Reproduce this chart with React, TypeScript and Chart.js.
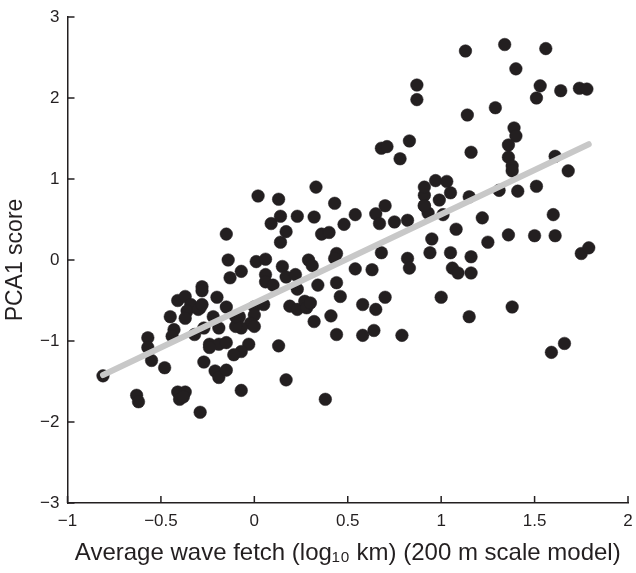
import React, { useEffect, useRef } from "react";
import { Chart, registerables } from "chart.js";

Chart.register(...registerables);

// Average wave fetch (log10 km), 200 m scale model
const fetchValues: number[] = [
  1.13, 1.34, 1.56, 1.40, 1.53, 1.51, 1.64, 1.74, 1.78, 1.14,
  1.29, 1.39, 1.40, 1.36, 1.16, 1.36, 1.38, 1.38, 1.61, 1.68,
  0.97, 1.03, 1.05, 0.91, 0.99, 1.15, 1.31, 1.41, 1.51, 0.87,
  0.87, 0.68, 0.71, 0.83, 0.78, 0.33, 0.02, 0.13, 0.91, 0.43,
  0.70, 0.65, 0.67, 0.75, 0.82, 0.91, 0.93, 0.54, 0.48, 0.09,
  0.14, 0.23, 0.32, 0.17, 0.14, 0.36, 0.40, 0.95, 0.94, 0.68,
  0.82, 0.83, 0.44, 0.43, 0.29, 0.31, 0.01, 0.06, -0.07, 0.15,
  0.06, 0.06, 0.10, 0.17, 0.22, 0.23, 0.34, 0.44, 0.54, 0.63,
  0.46, 0.70, 0.58, 0.65, 0.19, 0.23, 0.27, 0.28, 0.32, 0.41,
  0.44, 0.58, 0.64, 0.79, 0.00, 0.00, -0.02, 0.00, -0.08, -0.07,
  -0.03, -0.07, 0.13, 0.17, -0.07, 0.38, 1.00, 1.01, 1.22, 1.60,
  1.08, 1.36, 1.50, 1.61, 1.25, 1.05, 1.16, 1.06, 1.09, 1.16,
  1.75, 1.79, 1.15, 1.38, 1.66, 1.59, -0.15, -0.14, -0.13, -0.28,
  -0.28, -0.20, -0.41, -0.37, -0.34, -0.29, -0.15, -0.36, -0.45, -0.37,
  -0.22, -0.10, -0.43, -0.32, -0.27, -0.19, -0.44, -0.57, -0.57, -0.55,
  -0.48, -0.24, -0.19, -0.27, -0.21, -0.19, -0.15, -0.11, -0.63, -0.62,
  -0.41, -0.37, -0.40, -0.38, -0.29, -0.81, 0.05, -0.10, -0.24, -0.15,
  -0.30, -0.28, 0.30, 0.91,
];

// PCA1 score
const pcaScores: number[] = [
  2.58, 2.66, 2.61, 2.36, 2.15, 2.00, 2.09, 2.12, 2.11, 1.79,
  1.88, 1.63, 1.53, 1.42, 1.33, 1.27, 1.16, 1.10, 1.28, 1.10,
  0.98, 0.97, 0.83, 0.80, 0.74, 0.78, 0.86, 0.85, 0.91, 2.16,
  1.98, 1.38, 1.40, 1.47, 1.25, 0.90, 0.79, 0.75, 0.90, 0.70,
  0.67, 0.57, 0.45, 0.47, 0.49, 0.67, 0.58, 0.56, 0.44, 0.45,
  0.54, 0.54, 0.53, 0.35, 0.22, 0.32, 0.34, 0.26, 0.09, 0.09,
  0.02, -0.10, 0.08, 0.02, 0.00, -0.07, -0.02, 0.01, -0.14, -0.08,
  -0.18, -0.27, -0.31, -0.21, -0.18, -0.36, -0.31, -0.28, -0.11, -0.12,
  -0.45, -0.46, -0.55, -0.61, -0.57, -0.61, -0.51, -0.59, -0.76, -0.69,
  -0.92, -0.93, -0.87, -0.93, -0.58, -0.68, -0.78, -0.82, -0.70, -0.84,
  -1.04, -1.13, -1.06, -1.48, -1.61, -1.72, -0.46, 0.56, 0.52, 0.56,
  0.38, 0.31, 0.30, 0.30, 0.22, 0.09, 0.04, -0.10, -0.16, -0.16,
  0.08, 0.15, -0.70, -0.58, -1.03, -1.14, 0.32, 0.00, -0.22, -0.33,
  -0.38, -0.46, -0.50, -0.45, -0.55, -0.59, -0.58, -0.63, -0.70, -0.72,
  -0.70, -0.82, -0.86, -0.92, -0.84, -0.84, -0.94, -0.96, -1.08, -1.24,
  -1.33, -1.04, -1.04, -1.26, -1.37, -1.45, -1.36, -1.17, -1.67, -1.75,
  -1.63, -1.63, -1.72, -1.69, -1.88, -1.43, -0.55, -0.70, -1.08, -1.02,
  -0.61, -0.55, -0.53, 0.67,
];

// Fitted regression line end points
const fitX: number[] = [-0.81, 1.79];
const fitY: number[] = [-1.42, 1.43];

const xTickValues: number[] = [-1, -0.5, 0, 0.5, 1, 1.5, 2];
const yTickValues: number[] = [-3, -2, -1, 0, 1, 2, 3];

const xTitle = "Average wave fetch (log₁₀ km) (200 m scale model)";
const yTitle = "PCA1 score";

const INK = "#231f20";
const FONT = "'Liberation Sans', Arial, Helvetica, sans-serif";

const fmt = (v: number) => (v < 0 ? "\u2212" + String(Math.abs(v)) : String(v));

const inwardTicks = {
  id: "inwardTicks",
  afterDatasetsDraw(chart: any) {
    const { ctx, chartArea, scales } = chart;
    const x = scales.x;
    const y = scales.y;
    ctx.save();
    ctx.strokeStyle = INK;
    ctx.lineWidth = 1.5;
    ctx.beginPath();
    xTickValues.forEach((v) => {
      const px = x.getPixelForValue(v);
      ctx.moveTo(px, chartArea.bottom);
      ctx.lineTo(px, chartArea.bottom - 7);
    });
    yTickValues.forEach((v) => {
      const py = y.getPixelForValue(v);
      ctx.moveTo(chartArea.left, py);
      ctx.lineTo(chartArea.left + 7, py);
    });
    ctx.stroke();
    ctx.restore();
  },
};

export default function App() {
  const canvasRef = useRef<HTMLCanvasElement | null>(null);

  useEffect(() => {
    document.body.style.margin = "0";
    const canvas = canvasRef.current;
    if (!canvas) return;
    const points = fetchValues.map((v, i) => ({ x: v, y: pcaScores[i] }));
    const line = fitX.map((v, i) => ({ x: v, y: fitY[i] }));
    const chart = new Chart(canvas, {
      type: "scatter",
      data: {
        datasets: [
          {
            type: "line",
            data: line,
            borderColor: "#c8c8c8",
            borderWidth: 6,
            borderCapStyle: "round",
            pointRadius: 0,
            fill: false,
            order: 0,
          } as any,
          {
            data: points,
            backgroundColor: INK,
            borderColor: INK,
            borderWidth: 0.5,
            pointRadius: 6.3,
            order: 1,
          },
        ],
      },
      options: {
        animation: false,
        responsive: false,
        maintainAspectRatio: false,
        layout: { padding: { top: 17, right: 8, bottom: 0, left: 0 } },
        plugins: {
          legend: { display: false },
          tooltip: { enabled: false },
        },
        scales: {
          x: {
            type: "linear",
            min: -1,
            max: 2,
            afterFit: (s: any) => {
              s.height = 70;
              s.paddingLeft = 0;
              s.paddingRight = 0;
            },
            afterBuildTicks: (s: any) => {
              s.ticks = xTickValues.map((v) => ({ value: v }));
            },
            grid: { display: false, drawTicks: false },
            border: { display: true, color: INK, width: 1.5 },
            ticks: {
              padding: 8,
              color: INK,
              font: { family: FONT, size: 17 },
              callback: (v: any) => fmt(Number(v)),
              maxRotation: 0,
            },
            title: {
              display: true,
              text: xTitle,
              color: INK,
              font: { family: FONT, size: 24 },
              padding: { top: 0, bottom: 5 },
            },
          },
          y: {
            type: "linear",
            min: -3,
            max: 3,
            afterFit: (s: any) => {
              s.width = 67.5;
              s.paddingTop = 0;
              s.paddingBottom = 0;
            },
            afterBuildTicks: (s: any) => {
              s.ticks = yTickValues.map((v) => ({ value: v }));
            },
            grid: { display: false, drawTicks: false },
            border: { display: true, color: INK, width: 1.5 },
            ticks: {
              padding: 8,
              color: INK,
              font: { family: FONT, size: 17 },
              callback: (v: any) => fmt(Number(v)),
            },
            title: {
              display: true,
              text: yTitle,
              color: INK,
              font: { family: FONT, size: 23 },
              padding: { top: 2, bottom: 0 },
            },
          },
        },
      },
      plugins: [inwardTicks],
    });
    return () => chart.destroy();
  }, []);

  return (
    <div style={{ width: 636, height: 573, background: "#fff" }}>
      <canvas ref={canvasRef} width={636} height={573} style={{ width: 636, height: 573, display: "block" }} />
    </div>
  );
}
